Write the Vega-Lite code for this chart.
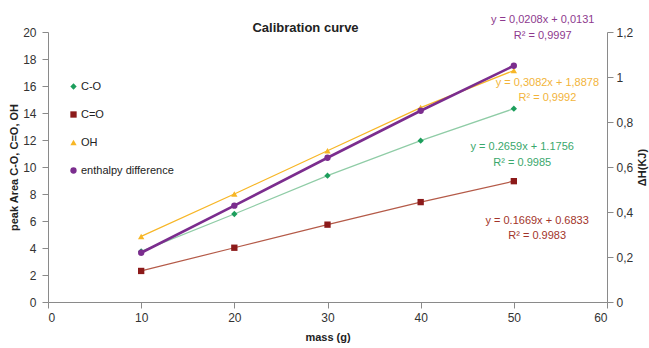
{
  "$schema": "https://vega.github.io/schema/vega-lite/v6.json",
  "width": 559,
  "height": 270,
  "autosize": {"type": "none"},
  "padding": {"left": 48, "top": 32, "right": 42, "bottom": 46},
  "background": "white",
  "config": {
    "view": {"stroke": null},
    "font": "Liberation Sans",
    "axis": {
      "grid": false,
      "domainColor": "#8a8a8a",
      "tickColor": "#8a8a8a",
      "tickSize": 6,
      "labelPadding": 3,
      "labelOverlap": false,
      "labelColor": "#333333",
      "labelFontSize": 12,
      "titleFontSize": 11,
      "titleFontWeight": "bold",
      "titleColor": "#222222"
    }
  },
  "title": {"text": "Calibration curve", "fontSize": 13, "fontWeight": "bold", "color": "#222222", "offset": -21, "dx": -22},
  "datasets": {
    "series": [
      {"mass": 10, "series": "C-O", "value": 3.75},
      {"mass": 20, "series": "C-O", "value": 6.52},
      {"mass": 30, "series": "C-O", "value": 9.36},
      {"mass": 40, "series": "C-O", "value": 11.95},
      {"mass": 50, "series": "C-O", "value": 14.32},
      {"mass": 10, "series": "C=O", "value": 2.3},
      {"mass": 20, "series": "C=O", "value": 4.02},
      {"mass": 30, "series": "C=O", "value": 5.73},
      {"mass": 40, "series": "C=O", "value": 7.4},
      {"mass": 50, "series": "C=O", "value": 8.95},
      {"mass": 10, "series": "OH", "value": 4.86},
      {"mass": 20, "series": "OH", "value": 8.0},
      {"mass": 30, "series": "OH", "value": 11.2},
      {"mass": 40, "series": "OH", "value": 14.4},
      {"mass": 50, "series": "OH", "value": 17.15},
      {"mass": 10, "series": "enthalpy difference", "value": 0.219},
      {"mass": 20, "series": "enthalpy difference", "value": 0.428},
      {"mass": 30, "series": "enthalpy difference", "value": 0.641},
      {"mass": 40, "series": "enthalpy difference", "value": 0.85},
      {"mass": 50, "series": "enthalpy difference", "value": 1.05}
    ],
    "eq": [
      {"mass": 53.1, "value": 20.9, "label": "y = 0,0208x + 0,0131", "series": "enthalpy difference"},
      {"mass": 53.1, "value": 19.7, "label": "R² = 0,9997", "series": "enthalpy difference"},
      {"mass": 53.6, "value": 16.2, "label": "y = 0,3082x + 1,8878", "series": "OH"},
      {"mass": 53.6, "value": 15.1, "label": "R² = 0,9992", "series": "OH"},
      {"mass": 50.9, "value": 11.5, "label": "y = 0.2659x + 1.1756", "series": "C-O"},
      {"mass": 50.9, "value": 10.3, "label": "R² = 0.9985", "series": "C-O"},
      {"mass": 52.5, "value": 6.0, "label": "y = 0.1669x + 0.6833", "series": "C=O"},
      {"mass": 52.5, "value": 4.9, "label": "R² = 0.9983", "series": "C=O"}
    ]
  },
  "encoding": {
    "x": {
      "field": "mass",
      "type": "quantitative",
      "scale": {"domain": [0, 60], "nice": false},
      "axis": {"values": [0, 10, 20, 30, 40, 50, 60], "title": "mass (g)", "titlePadding": 8, "labelPadding": 4}
    }
  },
  "layer": [
    {
      "encoding": {
        "y": {
          "field": "value",
          "type": "quantitative",
          "scale": {"domain": [0, 20], "nice": false},
          "axis": {"values": [0, 2, 4, 6, 8, 10, 12, 14, 16, 18, 20], "tickCount": 11, "title": "peak Area C-O, C=O, OH", "titlePadding": 3, "labelPadding": 6, "labelOverlap": false}
        }
      },
      "layer": [
        {
          "data": {"name": "series"},
          "transform": [{"filter": "datum.series !== 'enthalpy difference'"}],
          "mark": {"type": "line"},
          "encoding": {
            "stroke": {
              "field": "series",
              "type": "nominal",
              "scale": {"domain": ["C-O", "C=O", "OH"], "range": ["#8fcca6", "#b45a48", "#f7b626"]},
              "legend": null
            },
            "strokeWidth": {
              "field": "series",
              "type": "nominal",
              "scale": {"domain": ["C-O", "C=O", "OH"], "range": [1.2, 1.2, 2.6]},
              "legend": null
            }
          }
        },
        {
          "data": {"name": "series"},
          "transform": [{"filter": "datum.series !== 'enthalpy difference'"}],
          "mark": {"type": "point", "filled": true, "size": 40, "opacity": 1},
          "encoding": {
            "color": {
              "field": "series",
              "type": "nominal",
              "scale": {"domain": ["C-O", "C=O", "OH", "enthalpy difference"], "range": ["#1c9e5c", "#8c1a1a", "#f7b626", "#7b2d8e"]},
              "legend": {"title": null, "orient": "none", "legendX": 20, "legendY": 49, "labelFontSize": 11, "labelColor": "#222222", "symbolSize": 40, "rowPadding": 16, "labelOffset": 2, "symbolOpacity": 1}
            },
            "shape": {
              "field": "series",
              "type": "nominal",
              "scale": {"domain": ["C-O", "C=O", "OH", "enthalpy difference"], "range": ["diamond", "square", "triangle-up", "circle"]}
            }
          }
        },
        {
          "data": {"name": "eq"},
          "mark": {"type": "text", "fontSize": 11, "align": "center", "baseline": "middle"},
          "encoding": {
            "text": {"field": "label"},
            "fill": {
              "field": "series",
              "type": "nominal",
              "scale": {"domain": ["C-O", "C=O", "OH", "enthalpy difference"], "range": ["#3aa86c", "#a2342a", "#f2b43a", "#8e3a8e"]},
              "legend": null
            }
          }
        }
      ]
    },
    {
      "data": {"name": "series"},
      "transform": [{"filter": "datum.series === 'enthalpy difference'"}],
      "encoding": {
        "y": {
          "field": "value",
          "type": "quantitative",
          "scale": {"domain": [0, 1.2], "nice": false},
          "axis": {
            "orient": "right",
            "values": [0, 0.2, 0.4, 0.6, 0.8, 1, 1.2],
            "labelExpr": "replace(format(datum.value, '.1~f'), '.', ',')",
            "title": "ΔH(KJ)",
            "titleAngle": 270,
            "titlePadding": 15
          }
        }
      },
      "layer": [
        {
          "mark": {"type": "line", "color": "#7b2d8e", "strokeWidth": 2.6}
        },
        {
          "mark": {"type": "point", "filled": true, "size": 40, "opacity": 1},
          "encoding": {
            "color": {"field": "series", "type": "nominal"},
            "shape": {"field": "series", "type": "nominal"}
          }
        }
      ]
    }
  ],
  "resolve": {"scale": {"y": "independent"}}
}
